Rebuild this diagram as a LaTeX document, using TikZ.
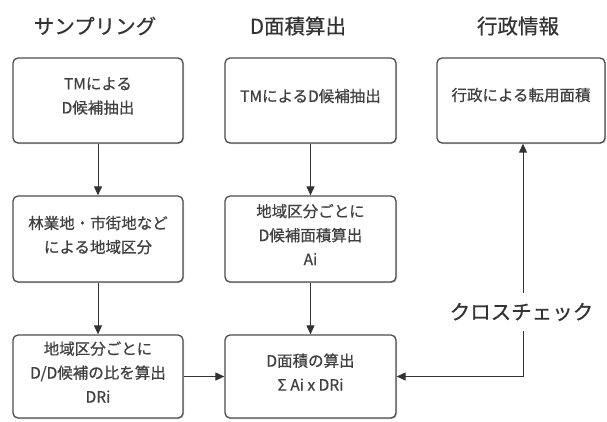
\documentclass[tikz,border=0pt]{standalone}
\usepackage{fontspec}
\setmainfont{Noto Sans CJK JP}[FakeBold=0.6]
\usetikzlibrary{arrows.meta,shadows}
\begin{document}
\begin{tikzpicture}[x=1pt,y=-1pt,
  box/.style={draw=black!70,line width=1.3pt,fill=white,rounded corners=5pt,
    minimum width=170pt,inner sep=0pt,
    drop shadow={shadow xshift=1pt,shadow yshift=-1pt,opacity=0.35,fill=black!60}},
  boxtext/.style={font=\fontsize{15.5}{24}\selectfont,text=black!75,align=center,inner sep=0pt},
  title/.style={font=\fontsize{20.5}{24}\selectfont,text=black!80,inner sep=0pt},
  arr/.style={draw=black!80,line width=1pt,-{Triangle[length=9pt,width=8pt]}},
  ln/.style={draw=black!60,line width=1pt}]
\useasboundingbox (0,0) rectangle (607,421);
% titles
\node[title] (t1) at (95,26) {サンプリング};
\node[title] (t2) at (298,26) {D面積算出};
\node[title] (t3) at (518,26) {行政情報};
% boxes
\node[box,minimum height=85pt] (a1) at (98,100.5) {};
\node[box,minimum height=86pt] (a2) at (98,239) {};
\node[box,minimum height=83pt] (a3) at (98,376.5) {};
\node[box,minimum width=171pt,minimum height=85pt] (b1) at (310.5,100.5) {};
\node[box,minimum width=171pt,minimum height=86pt] (b2) at (310.5,239) {};
\node[box,minimum width=171pt,minimum height=83pt] (b3) at (310.5,376.5) {};
\node[box,minimum width=168pt,minimum height=85pt] (c1) at (521,100.5) {};
% texts
\node[boxtext] (a1t) at (98,96) {TMによる\\D候補抽出};
\node[boxtext] (a2t) at (98,235) {林業地・市街地など\\による地域区分};
\node[boxtext] (a3t) at (98,372) {地域区分ごとに\\D/D候補の比を算出\\DRi};
\node[boxtext] (b1t) at (310.5,96) {TMによるD候補抽出};
\node[boxtext] (b2t) at (310.5,234.5) {地域区分ごとに\\D候補面積算出\\Ai};
\node[boxtext] (b3t) at (310.5,372) {D面積の算出\\Σ Ai x DRi};
\node[boxtext] (c1t) at (521,95) {行政による転用面積};
% label
\node[title,fill=white,inner ysep=10pt,inner xsep=2pt] (cc) at (521.5,312) {クロスチェック};
% connectors
\draw[arr] (a1) -- (a2);
\draw[arr] (a2) -- (a3);
\draw[arr] (b1) -- (b2);
\draw[arr] (b2) -- (b3);
\draw[arr] (a3) -- (b3);
\draw[arr] (cc.north -| c1.south) ++(2pt,0) coordinate (cup) -- (cup |- c1.south);
\coordinate (cdn) at ([xshift=2pt]cc.south -| c1.south);
\draw[arr] (cdn) |- (b3.east);
\end{tikzpicture}
\end{document}
